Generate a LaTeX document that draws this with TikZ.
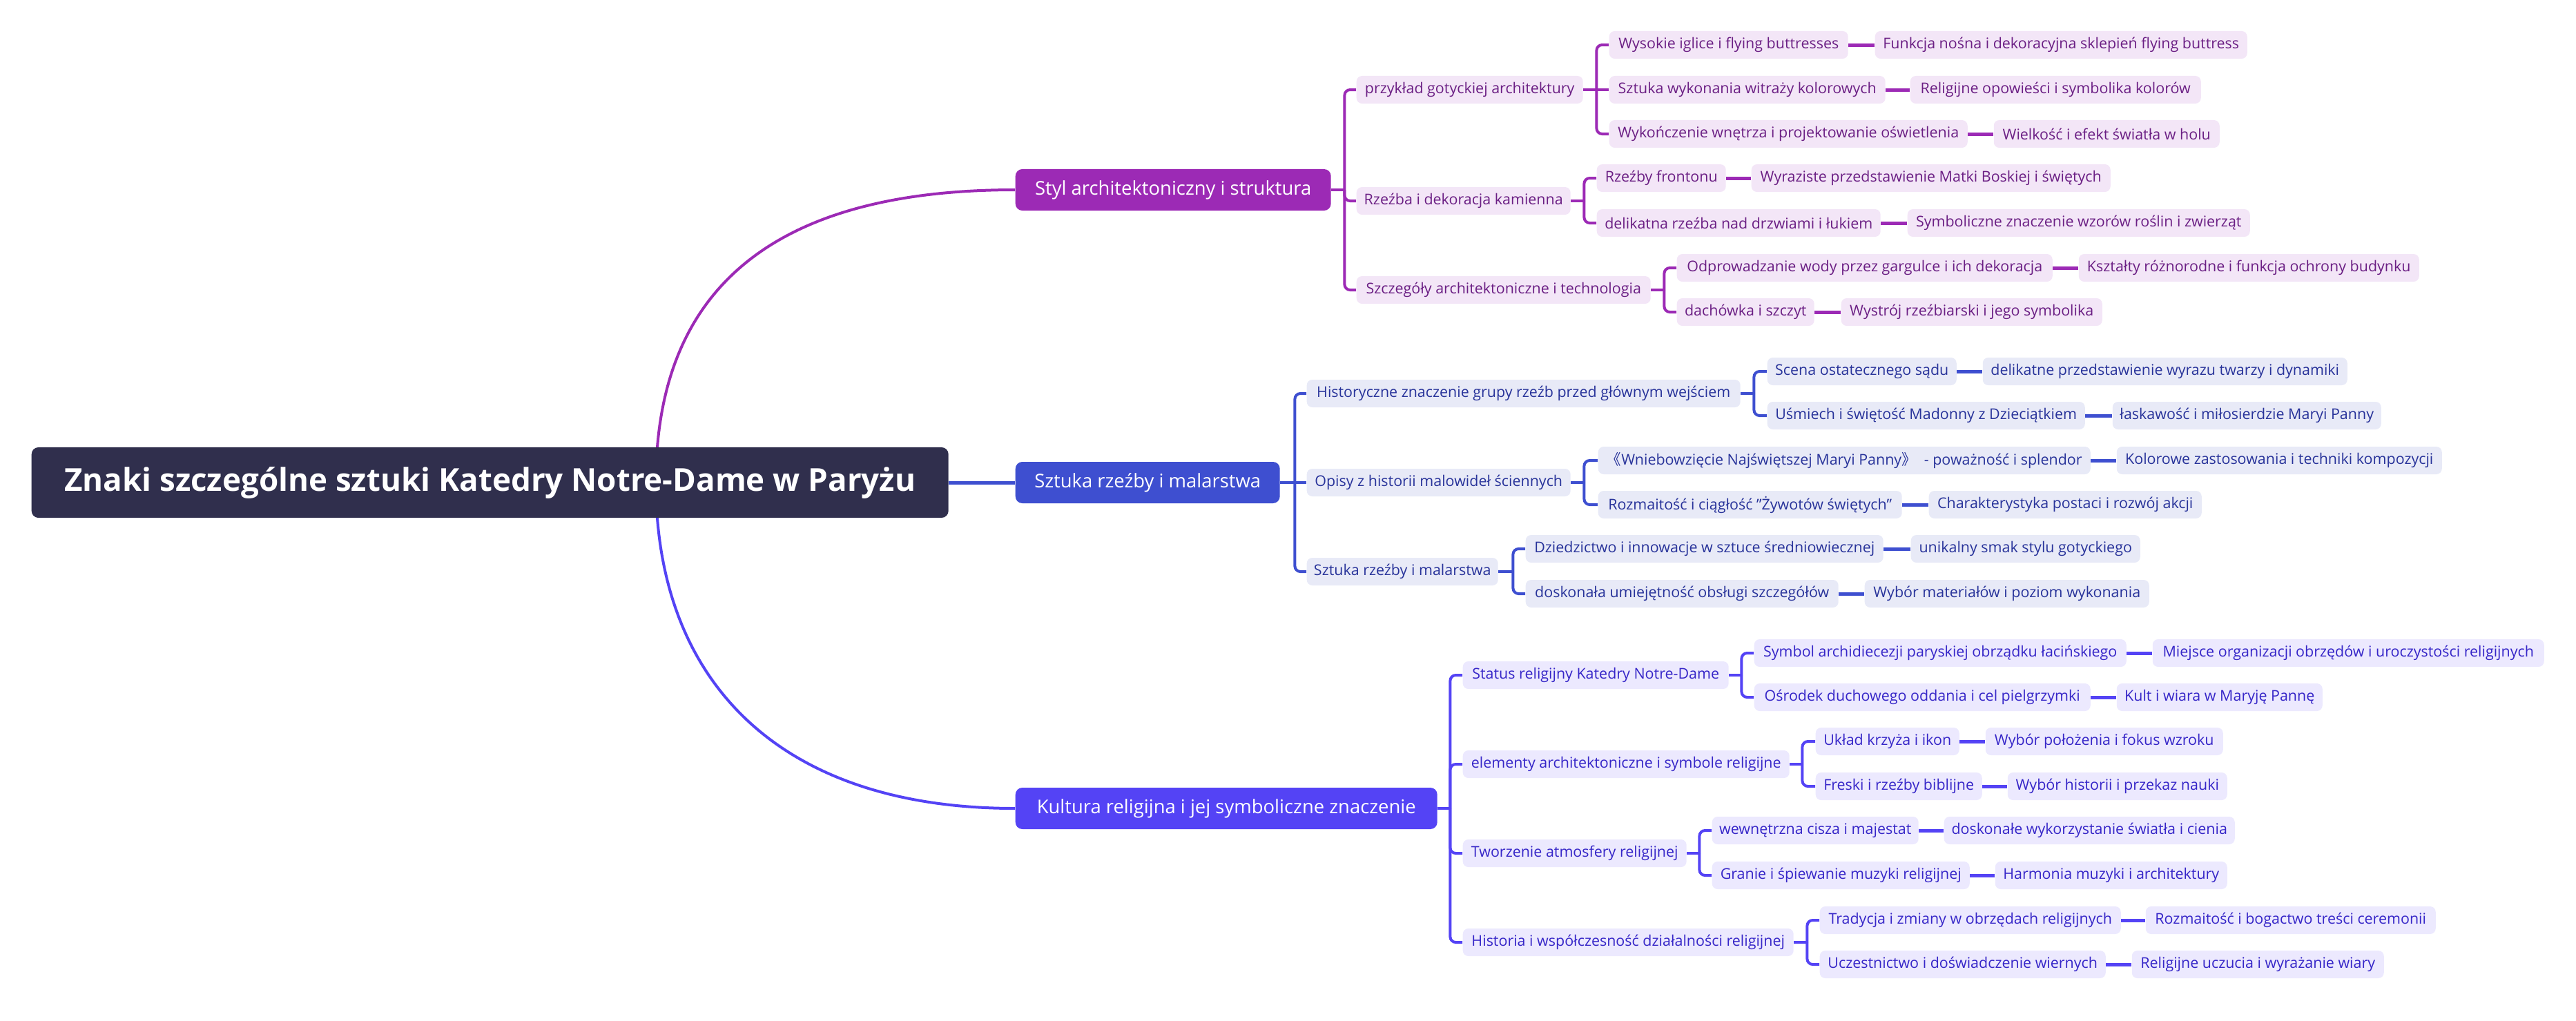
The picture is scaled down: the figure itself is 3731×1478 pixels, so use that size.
\documentclass[tikz,border=0pt]{standalone}
\usepackage{fontspec}
\setmainfont{Open Sans}
\newfontfamily\cjk{Noto Sans CJK SC}
\usetikzlibrary{backgrounds}
\definecolor{rootfill}{HTML}{302F4D}
\definecolor{pa}{HTML}{9C2AB5}
\definecolor{palight}{HTML}{F3E6F7}
\definecolor{patext}{HTML}{6B1F84}
\definecolor{pb}{HTML}{3E4FD0}
\definecolor{pblight}{HTML}{E8EAF7}
\definecolor{pbtext}{HTML}{28339A}
\definecolor{pc}{HTML}{5443F5}
\definecolor{pclight}{HTML}{ECE9FE}
\definecolor{pctext}{HTML}{3626C8}
\tikzset{
  base/.style={rectangle, rounded corners=0.08cm, inner sep=0pt, minimum height=0.4cm, font=\fontsize{6.1}{7}\selectfont},
  ga/.style={base, fill=palight, text=patext},
  gb/.style={base, fill=pblight, text=pbtext},
  gc/.style={base, fill=pclight, text=pctext},
  lone/.style={rectangle, rounded corners=0.1cm, inner sep=0pt, minimum height=0.6cm, text=white, font=\fontsize{7.8}{9}\selectfont},
  rootbox/.style={rectangle, rounded corners=0.1cm, inner sep=0pt, minimum height=1.02cm, fill=rootfill, text=white, font=\fontsize{13}{15}\selectfont\bfseries},
  conn/.style={line width=0.05cm},
  br/.style={line width=0.04cm, rounded corners=0.08cm},
  curve/.style={line width=0.04cm},
}
\newcommand\nd[6]{\node[#5, anchor=west, minimum width={(#3-#2)*0.01cm}] (#1) at (#2,#4) {#6};}
\begin{document}
\begin{tikzpicture}[x=0.01cm, y=-0.01cm]
\useasboundingbox (0,0) rectangle (3731,1478);
% root
\nd{root}{45}{1373}{699}{rootbox}{Znaki szczególne sztuki Katedry Notre-Dame w Paryżu}
\coordinate (rc) at (950,699);
% level 1
\nd{s1}{1470}{1927}{275}{lone, fill=pa}{Styl architektoniczny i struktura}
\nd{s2}{1470}{1853}{699}{lone, fill=pb}{Sztuka rzeźby i malarstwa}
\nd{s3}{1470}{2081}{1171}{lone, fill=pc}{Kultura religijna i jej symboliczne znaczenie}
% group 1
\nd{a1}{1964}{2292}{130}{ga}{przykład gotyckiej architektury}
\nd{a2}{1964}{2274}{291}{ga}{Rzeźba i dekoracja kamienna}
\nd{a3}{1964}{2390}{420}{ga}{Szczegóły architektoniczne i technologia}
\nd{a11}{2330}{2676}{65}{ga}{Wysokie iglice i flying buttresses}
\nd{a11b}{2715}{3254}{65}{ga}{Funkcja nośna i dekoracyjna sklepień flying buttress}
\nd{a12}{2330}{2730}{130}{ga}{Sztuka wykonania witraży kolorowych}
\nd{a12b}{2766}{3187}{130}{ga}{Religijne opowieści i symbolika kolorów}
\nd{a13}{2330}{2849}{194}{ga}{Wykończenie wnętrza i projektowanie oświetlenia}
\nd{a13b}{2887}{3214}{194}{ga}{Wielkość i efekt światła w holu}
\nd{a21}{2312}{2499}{258}{ga}{Rzeźby frontonu}
\nd{a21b}{2536}{3056}{258}{ga}{Wyraziste przedstawienie Matki Boskiej i świętych}
\nd{a22}{2312}{2723}{323}{ga}{delikatna rzeźba nad drzwiami i łukiem}
\nd{a22b}{2762}{3258}{323}{ga}{Symboliczne znaczenie wzorów roślin i zwierząt}
\nd{a31}{2428}{2972}{388}{ga}{Odprowadzanie wody przez gargulce i ich dekoracja}
\nd{a31b}{3010}{3503}{388}{ga}{Kształty różnorodne i funkcja ochrony budynku}
\nd{a32}{2428}{2627}{452}{ga}{dachówka i szczyt}
\nd{a32b}{2666}{3044}{452}{ga}{Wystrój rzeźbiarski i jego symbolika}
% group 2
\nd{b1}{1892}{2520}{570}{gb}{Historyczne znaczenie grupy rzeźb przed głównym wejściem}
\nd{b2}{1892}{2274}{699}{gb}{Opisy z historii malowideł ściennych}
\nd{b3}{1892}{2169}{828}{gb}{Sztuka rzeźby i malarstwa}
\nd{b11}{2559}{2833}{538}{gb}{Scena ostatecznego sądu}
\nd{b11b}{2871}{3399}{538}{gb}{delikatne przedstawienie wyrazu twarzy i dynamiki}
\nd{b12}{2559}{3019}{602}{gb}{Uśmiech i świętość Madonny z Dzieciątkiem}
\nd{b12b}{3059}{3448}{602}{gb}{łaskawość i miłosierdzie Maryi Panny}
\nd{b21}{2314}{3027}{667}{gb}{{\cjk 《}Wniebowzięcie Najświętszej Maryi Panny{\cjk 》}\ \ - poważność i splendor}
\nd{b21b}{3065}{3536}{667}{gb}{Kolorowe zastosowania i techniki kompozycji}
\nd{b22}{2314}{2754}{731}{gb}{Rozmaitość i ciągłość "Żywotów świętych"}
\nd{b22b}{2793}{3188}{731}{gb}{Charakterystyka postaci i rozwój akcji}
\nd{b31}{2209}{2727}{795}{gb}{Dziedzictwo i innowacje w sztuce średniowiecznej}
\nd{b31b}{2767}{3099}{795}{gb}{unikalny smak stylu gotyckiego}
\nd{b32}{2209}{2662}{860}{gb}{doskonała umiejętność obsługi szczegółów}
\nd{b32b}{2700}{3112}{860}{gb}{Wybór materiałów i poziom wykonania}
% group 3
\nd{c1}{2118}{2503}{978}{gc}{Status religijny Katedry Notre-Dame}
\nd{c2}{2118}{2591}{1107}{gc}{elementy architektoniczne i symbole religijne}
\nd{c3}{2118}{2442}{1236}{gc}{Tworzenie atmosfery religijnej}
\nd{c4}{2118}{2597}{1365}{gc}{Historia i współczesność działalności religijnej}
\nd{c11}{2540}{3079}{946}{gc}{Symbol archidiecezji paryskiej obrządku łacińskiego}
\nd{c11b}{3117}{3684}{946}{gc}{Miejsce organizacji obrzędów i uroczystości religijnych}
\nd{c12}{2540}{3027}{1010}{gc}{Ośrodek duchowego oddania i cel pielgrzymki}
\nd{c12b}{3065}{3363}{1010}{gc}{Kult i wiara w Maryję Pannę}
\nd{c21}{2629}{2837}{1074}{gc}{Układ krzyża i ikon}
\nd{c21b}{2875}{3219}{1074}{gc}{Wybór położenia i fokus wzroku}
\nd{c22}{2629}{2870}{1139}{gc}{Freski i rzeźby biblijne}
\nd{c22b}{2907}{3225}{1139}{gc}{Wybór historii i przekaz nauki}
\nd{c31}{2479}{2778}{1203}{gc}{wewnętrzna cisza i majestat}
\nd{c31b}{2815}{3236}{1203}{gc}{doskonałe wykorzystanie światła i cienia}
\nd{c32}{2479}{2852}{1268}{gc}{Granie i śpiewanie muzyki religijnej}
\nd{c32b}{2889}{3225}{1268}{gc}{Harmonia muzyki i architektury}
\nd{c41}{2635}{3071}{1333}{gc}{Tradycja i zmiany w obrzędach religijnych}
\nd{c41b}{3107}{3527}{1333}{gc}{Rozmaitość i bogactwo treści ceremonii}
\nd{c42}{2635}{3049}{1397}{gc}{Uczestnictwo i doświadczenie wiernych}
\nd{c42b}{3087}{3452}{1397}{gc}{Religijne uczucia i wyrażanie wiary}
\begin{pgfonlayer}{background}
% root connectors
\draw[curve, pa] (rc) .. controls (950,416) and (1123,275) .. (s1.west);
\draw[curve, pc] (rc) .. controls (950,982) and (1123,1171) .. (s3.west);
\draw[conn, pb] (root.east) -- (s2.west);
% group 1 brackets
\draw[br, pa] (s1.east) -- ++(19,0) coordinate (s1s);
\draw[br, pa] (s1s) |- (a1.west);
\draw[br, pa] (s1s) |- (a2.west);
\draw[br, pa] (s1s) |- (a3.west);
\draw[br, pa] (a1.east) -- ++(19,0) coordinate (a1s);
\draw[br, pa] (a1s) |- (a11.west);
\draw[br, pa] (a1s) -- (a12.west);
\draw[br, pa] (a1s) |- (a13.west);
\draw[br, pa] (a2.east) -- ++(19,0) coordinate (a2s);
\draw[br, pa] (a2s) |- (a21.west);
\draw[br, pa] (a2s) |- (a22.west);
\draw[br, pa] (a3.east) -- ++(19,0) coordinate (a3s);
\draw[br, pa] (a3s) |- (a31.west);
\draw[br, pa] (a3s) |- (a32.west);
\foreach \n in {a11,a12,a13,a21,a22,a31,a32} \draw[conn, pa] (\n.east) -- (\n b.west);
% group 2 brackets
\draw[br, pb] (s2.east) -- ++(21,0) coordinate (s2s);
\draw[br, pb] (s2s) |- (b1.west);
\draw[br, pb] (s2s) -- (b2.west);
\draw[br, pb] (s2s) |- (b3.west);
\draw[br, pb] (b1.east) -- ++(19,0) coordinate (b1s);
\draw[br, pb] (b1s) |- (b11.west);
\draw[br, pb] (b1s) |- (b12.west);
\draw[br, pb] (b2.east) -- ++(19,0) coordinate (b2s);
\draw[br, pb] (b2s) |- (b21.west);
\draw[br, pb] (b2s) |- (b22.west);
\draw[br, pb] (b3.east) -- ++(21,0) coordinate (b3s);
\draw[br, pb] (b3s) |- (b31.west);
\draw[br, pb] (b3s) |- (b32.west);
\foreach \n in {b11,b12,b21,b22,b31,b32} \draw[conn, pb] (\n.east) -- (\n b.west);
% group 3 brackets
\draw[br, pc] (s3.east) -- ++(18,0) coordinate (s3s);
\draw[br, pc] (s3s) |- (c1.west);
\draw[br, pc] (s3s) |- (c2.west);
\draw[br, pc] (s3s) |- (c3.west);
\draw[br, pc] (s3s) |- (c4.west);
\draw[br, pc] (c1.east) -- ++(18,0) coordinate (c1s);
\draw[br, pc] (c1s) |- (c11.west);
\draw[br, pc] (c1s) |- (c12.west);
\draw[br, pc] (c2.east) -- ++(18,0) coordinate (c2s);
\draw[br, pc] (c2s) |- (c21.west);
\draw[br, pc] (c2s) |- (c22.west);
\draw[br, pc] (c3.east) -- ++(18,0) coordinate (c3s);
\draw[br, pc] (c3s) |- (c31.west);
\draw[br, pc] (c3s) |- (c32.west);
\draw[br, pc] (c4.east) -- ++(19,0) coordinate (c4s);
\draw[br, pc] (c4s) |- (c41.west);
\draw[br, pc] (c4s) |- (c42.west);
\foreach \n in {c11,c12,c21,c22,c31,c32,c41,c42} \draw[conn, pc] (\n.east) -- (\n b.west);
\end{pgfonlayer}
\end{tikzpicture}
\end{document}
